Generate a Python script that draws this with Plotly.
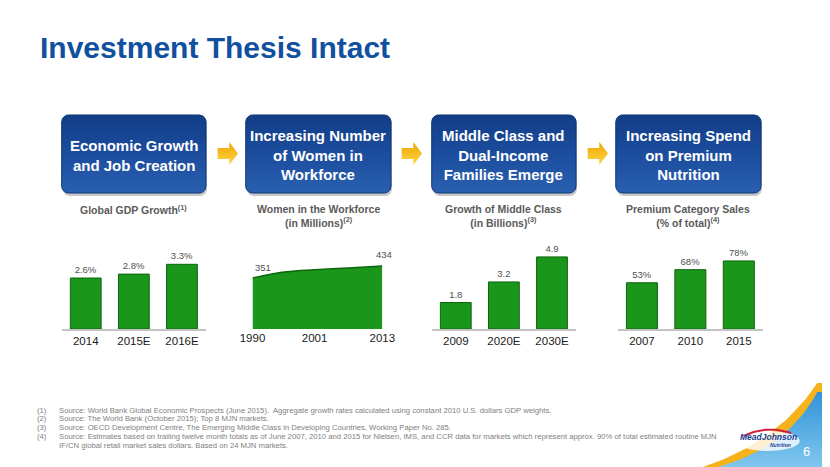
import numpy as np
import plotly.graph_objects as go

W, H = 830, 467
OFF = 8  # the page body margin pushes the figure 8px right and down
FONT = "Arial, Liberation Sans, sans-serif"

# ---- chart data ----
gdp_years = ["2014", "2015E", "2016E"]
gdp_growth = [2.6, 2.8, 3.3]

women_years = [1990, 1996, 2001, 2007, 2013]
women_millions = [351, 393, 407, 420, 434]
women_ticks = [1990, 2001, 2013]

mc_years = ["2009", "2020E", "2030E"]
mc_billions = [1.8, 3.2, 4.9]

prem_years = ["2007", "2010", "2015"]
prem_share = [53, 68, 78]

box_titles = [
    "Economic Growth<br>and Job Creation",
    "Increasing Number<br>of Women in<br>Workforce",
    "Middle Class and<br>Dual-Income<br>Families Emerge",
    "Increasing Spend<br>on Premium<br>Nutrition",
]
chart_titles = [
    "Global GDP Growth<sup>(1)</sup>",
    "Women in the Workforce<br>(in Millions)<sup>(2)</sup>",
    "Growth of Middle Class<br>(in Billions)<sup>(3)</sup>",
    "Premium Category Sales<br>(% of total)<sup>(4)</sup>",
]
footnote_nums = ["(1)", "(2)", "(3)", "(4)", ""]
footnotes = [
    "Source: World Bank Global Economic Prospects (June 2015).  Aggregate growth rates calculated using constant 2010 U.S. dollars GDP weights.",
    "Source: The World Bank (October 2015); Top 8 MJN markets.",
    "Source: OECD Development Centre, The Emerging Middle Class in Developing Countries, Working Paper No. 285.",
    "Source: Estimates based on trailing twelve month totals as of June 2007, 2010 and 2015 for Nielsen, IMS, and CCR data for markets which represent approx. 90% of total estimated routine MJN",
    "IF/CN global retail market sales dollars. Based on 24 MJN markets.",
]

GREEN = "#1a961a"
GREEN_EDGE = "#0c660c"


def xdom(a, b):
    return [(a - OFF) / W, (b - OFF) / W]


def ydom(top, bottom):
    return [1 - (bottom - OFF) / H, 1 - (top - OFF) / H]


def rounded_rect(x0, y0, x1, y1, r, n=8):
    xs, ys = [], []
    for cx, cy, a0, a1 in [(x1 - r, y0 + r, -90, 0), (x1 - r, y1 - r, 0, 90),
                           (x0 + r, y1 - r, 90, 180), (x0 + r, y0 + r, 180, 270)]:
        t = np.radians(np.linspace(a0, a1, n))
        xs += list(cx + r * np.cos(t))
        ys += list(cy + r * np.sin(t))
    return xs + [xs[0]], ys + [ys[0]]


def bezier(p0, p1, p2, n=30):
    t = np.linspace(0, 1, n)
    x = (1 - t) ** 2 * p0[0] + 2 * (1 - t) * t * p1[0] + t ** 2 * p2[0]
    y = (1 - t) ** 2 * p0[1] + 2 * (1 - t) * t * p1[1] + t ** 2 * p2[1]
    return list(x), list(y)


fig = go.Figure()

# ---- the four mini charts ----
fig.add_trace(go.Bar(x=gdp_years, y=gdp_growth, text=[f"{v}%" for v in gdp_growth],
                     xaxis="x", yaxis="y"))
fig.add_trace(go.Scatter(x=women_years, y=women_millions, mode="lines", fill="tozeroy",
                         fillcolor=GREEN, line=dict(color=GREEN_EDGE, width=1.5, shape="spline"),
                         xaxis="x2", yaxis="y2", hoverinfo="x+y"))
fig.add_trace(go.Bar(x=mc_years, y=mc_billions, text=[f"{v}" for v in mc_billions],
                     xaxis="x3", yaxis="y3"))
fig.add_trace(go.Bar(x=prem_years, y=prem_share, text=[f"{v}%" for v in prem_share],
                     xaxis="x4", yaxis="y4"))
fig.update_traces(selector=dict(type="bar"), marker=dict(color=GREEN, line=dict(color=GREEN_EDGE, width=1)),
                  textposition="outside", cliponaxis=False,
                  textfont=dict(family=FONT, size=9.5, color="#505050"))

# ---- decoration drawn in screen pixels (overlay axes x5/y5) ----
box_x = [(50, 199), (240, 390), (432, 581), (622, 772)]
for x0, x1 in box_x:
    sx, sy = rounded_rect(x0 + 1, 117, x1 + 1, 196, 7)
    fig.add_trace(go.Scatter(x=sx, y=sy, mode="lines", fill="toself", line=dict(width=0),
                             fillcolor="rgba(0,0,0,0.22)", xaxis="x5", yaxis="y5", hoverinfo="skip"))
    bx, by = rounded_rect(x0, 115, x1, 193, 7)
    fig.add_trace(go.Scatter(x=bx, y=by, mode="lines", fill="toself", line=dict(width=1, color="#0d3678"),
                             fillgradient=dict(type="vertical",
                                               colorscale=[[0, "#2a5fb0"], [0.5, "#1c4d9e"], [1, "#123d87"]]),
                             xaxis="x5", yaxis="y5", hoverinfo="skip"))

for ax in [211, 401, 593]:
    fig.add_trace(go.Scatter(x=[ax, ax + 12, ax + 12, ax + 21, ax + 12, ax + 12, ax, ax],
                             y=[148, 148, 142, 153.5, 165, 159, 159, 148],
                             mode="lines", fill="toself", line=dict(width=0),
                             fillgradient=dict(type="vertical",
                                               colorscale=[[0, "#ffd84a"], [1, "#eea400"]]),
                             xaxis="x5", yaxis="y5", hoverinfo="skip"))

# corner swoosh and logo
yx, yy = bezier((712, 467), (790, 442), (830, 383))
fig.add_trace(go.Scatter(x=yx + [840, 840, 712], y=yy + [383, 480, 480], mode="lines", fill="toself",
                         line=dict(width=0), fillcolor="#f6b21b", xaxis="x5", yaxis="y5", hoverinfo="skip"))
bx_, by_ = bezier((728, 467), (800, 447), (830, 392))
fig.add_trace(go.Scatter(x=bx_ + [840, 840, 728], y=by_ + [392, 480, 480], mode="lines", fill="toself",
                         line=dict(width=0),
                         fillgradient=dict(type="vertical", colorscale=[[0, "#8fd0f2"], [1, "#2f93d8"]]),
                         xaxis="x5", yaxis="y5", hoverinfo="skip"))
t = np.linspace(0, 2 * np.pi, 40)
fig.add_trace(go.Scatter(x=list(779 + 33 * np.cos(t)), y=list(441 + 10 * np.sin(t)), mode="lines",
                         fill="toself", line=dict(width=0), fillcolor="rgba(255,255,255,0.8)",
                         xaxis="x5", yaxis="y5", hoverinfo="skip"))
ax_, ay_ = bezier((754, 436), (777, 425), (803, 433))
fig.add_trace(go.Scatter(x=ax_, y=ay_, mode="lines", line=dict(color="#d3213d", width=2),
                         xaxis="x5", yaxis="y5", hoverinfo="skip"))

annotations = []


def note(text, x, y, size, color="#000000", xanchor="center", yanchor="middle", **kw):
    annotations.append(dict(text=text, x=x, y=y, xref="x5", yref="y5", showarrow=False,
                            xanchor=xanchor, yanchor=yanchor,
                            font=dict(family=FONT, size=size, color=color), **kw))


note("<b>Investment Thesis Intact</b>", 26, 47, 30, "#11509f", xanchor="left")
for (x0, x1), txt in zip(box_x, box_titles):
    note(f"<b>{txt}</b>", (x0 + x1) / 2, 155, 15, "#ffffff")
for (x0, x1), txt in zip(box_x, chart_titles):
    note(f"<b>{txt}</b>", (x0 + x1) / 2, 201, 10.5, "#5a5a5a", yanchor="top")
for i, (num, txt) in enumerate(zip(footnote_nums, footnotes)):
    y = 410 + i * 8.8
    if num:
        note(num, 22, y, 7.7, "#808080", xanchor="left")
    note(txt, 45, y, 7.7, "#808080", xanchor="left")
note("<b><i>MeadJohnson</i></b>", 780, 437, 8.5, "#1b3f92")
note("<b><i>Nutrition</i></b>", 792, 445, 5, "#1b3f92")
note("6", 819, 451, 13, "#ffffff")

# value labels for the area chart
annotations.append(dict(text=str(women_millions[0]), x=women_years[0], y=women_millions[0],
                        xref="x2", yref="y2", showarrow=False, xanchor="left", yanchor="bottom",
                        yshift=3, font=dict(family=FONT, size=9.5, color="#505050")))
annotations.append(dict(text=str(women_millions[-1]), x=women_years[-1], y=women_millions[-1],
                        xref="x2", yref="y2", showarrow=False, xanchor="center", yanchor="bottom",
                        xshift=2, yshift=4, font=dict(family=FONT, size=9.5, color="#505050")))

tickfont = dict(family=FONT, size=11.5, color="#1a1a1a")
base_x = dict(showgrid=False, zeroline=False, ticks="", tickfont=tickfont, fixedrange=True,
              showline=True, linecolor="#c4c4c4", linewidth=2)
base_y = dict(visible=False, showgrid=False, zeroline=False, fixedrange=True)
yd = ydom(240, 329)

fig.update_layout(
    width=W, height=H,
    margin=dict(l=0, r=0, t=0, b=0),
    paper_bgcolor="#ffffff", plot_bgcolor="rgba(0,0,0,0)",
    showlegend=False, bargap=0.36,
    xaxis=dict(base_x, domain=xdom(50, 199)),
    yaxis=dict(base_y, domain=yd, range=[0, 4.54]),
    xaxis2=dict(base_x, domain=xdom(247, 381), range=[1990, 2013], tickvals=women_ticks,
                showline=False),
    yaxis2=dict(base_y, domain=yd, range=[0, 612]),
    xaxis3=dict(base_x, domain=xdom(432, 581)),
    yaxis3=dict(base_y, domain=yd, range=[0, 6.05]),
    xaxis4=dict(base_x, domain=xdom(624, 774)),
    yaxis4=dict(base_y, domain=yd, range=[0, 102]),
    xaxis5=dict(visible=False, domain=[0, 1], range=[OFF, W + OFF], fixedrange=True),
    yaxis5=dict(visible=False, domain=[0, 1], range=[H + OFF, OFF], fixedrange=True),
    annotations=annotations,
)

fig.write_html("out.html")
